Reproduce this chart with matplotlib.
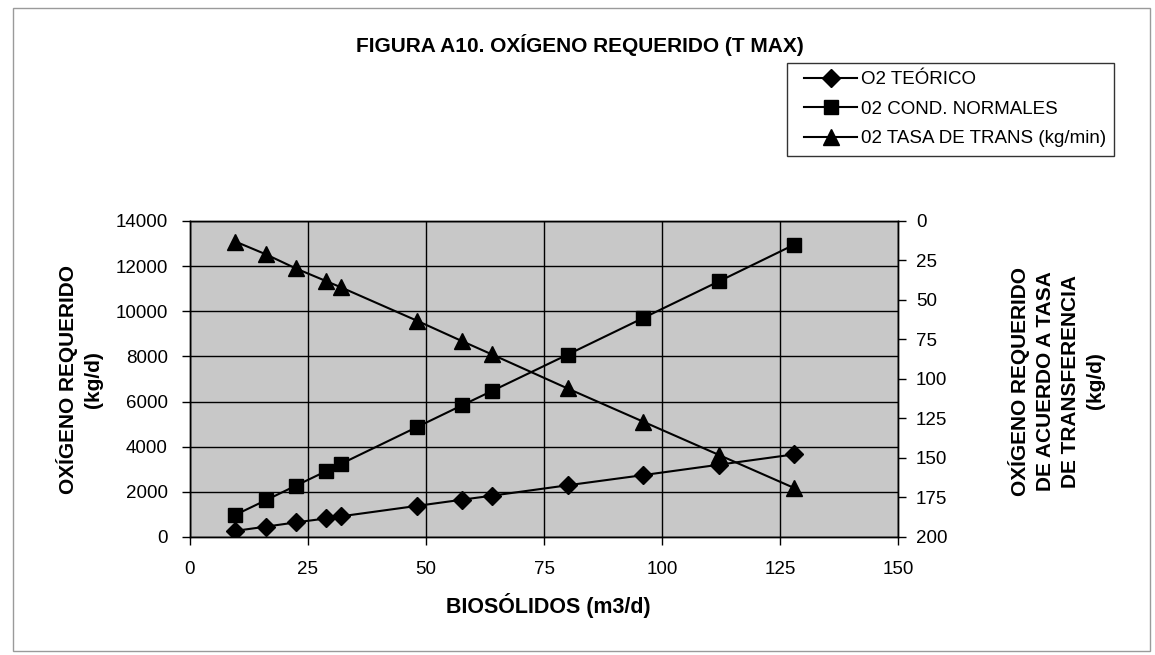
import matplotlib.pyplot as plt
from matplotlib.patches import Rectangle
from matplotlib.legend_handler import HandlerLine2D

# datos
biosolidos = [9.6, 16, 22.4, 28.8, 32, 48, 57.6, 64, 80, 96, 112, 128]
o2_teorico = [270, 455, 645, 820, 915, 1375, 1650, 1830, 2290, 2740, 3200, 3660]
o2_normales = [980, 1620, 2270, 2910, 3240, 4860, 5830, 6470, 8080, 9700, 11320, 12950]
o2_tasa = [13, 21, 30, 38, 42, 63, 76, 84.5, 106, 127, 148, 169]

labels = ['O2 TEÓRICO', '02 COND. NORMALES', '02 TASA DE TRANS (kg/min)']

plt.rcParams['font.family'] = ['Liberation Sans', 'DejaVu Sans']

fig = plt.figure(figsize=(11.55, 6.55), dpi=100)
ax = fig.add_axes([0.1645, 0.1802, 0.613, 0.4824])
ax.set_facecolor('#c8c8c8')

# marco exterior
fig.patches.append(Rectangle((0.011, 0.006), 0.985, 0.982, transform=fig.transFigure,
                             fill=False, edgecolor='#9a9a9a', linewidth=1))

l1, = ax.plot(biosolidos, o2_teorico, color='black', lw=1.5, marker='D', ms=9)
l2, = ax.plot(biosolidos, o2_normales, color='black', lw=1.5, marker='s', ms=10)

ax2 = ax.twinx()
l3, = ax2.plot(biosolidos, o2_tasa, color='black', lw=1.5, marker='^', ms=11)

ax.set_xlim(0, 150)
ax.set_ylim(0, 14000)
ax.set_xticks(range(0, 151, 25))
ax.set_yticks(range(0, 14001, 2000))
ax2.set_ylim(200, 0)
ax2.set_yticks(range(0, 201, 25))

ax.grid(True, color='black', lw=1)
ax.set_axisbelow(True)
for a in (ax, ax2):
    a.tick_params(labelsize=13.5, length=6, width=1, direction='out')
    for s in a.spines.values():
        s.set_linewidth(1)
ax.tick_params(axis='y', pad=10)
ax.tick_params(axis='x', pad=11.5)
ax2.tick_params(axis='y', pad=7)

fig.text(0.4745, 1 - 606 / 655, 'BIOSÓLIDOS (m3/d)', ha='center', va='center',
         fontsize=15.5, fontweight='bold')
fig.text(0.0685, 1 - 380 / 655, 'OXÍGENO REQUERIDO\n(kg/d)', rotation=90, ha='center', va='center',
         fontsize=15, fontweight='bold', linespacing=1.4)
fig.text(0.915, 1 - 381 / 655, 'OXÍGENO REQUERIDO\nDE ACUERDO A TASA\nDE TRANSFERENCIA\n(kg/d)',
         rotation=90, ha='center', va='center', fontsize=15, fontweight='bold', linespacing=1.4)

fig.text(0.502, 1 - 45 / 655, 'FIGURA A10. OXÍGENO REQUERIDO (T MAX)', ha='center', va='center',
         fontsize=15, fontweight='bold')

hm = {h: HandlerLine2D(xpad=0.5) for h in (l1, l2, l3)}
leg = fig.legend([l1, l2, l3], labels, loc='upper left', bbox_to_anchor=(0.681, 0.904),
                 fontsize=13.5, frameon=True, fancybox=False, edgecolor='black',
                 handlelength=3.3, handletextpad=0.2, borderpad=0.45, labelspacing=0.65,
                 borderaxespad=0, handler_map=hm)
leg.get_frame().set_linewidth(1)

fig.savefig('out.png', dpi=100)
